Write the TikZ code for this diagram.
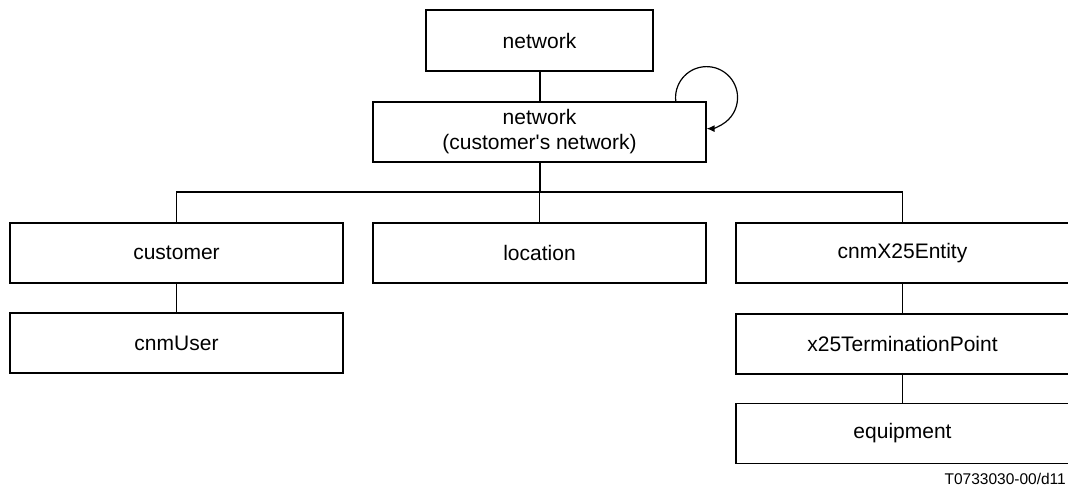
\documentclass[tikz,border=0pt]{standalone}
\usepackage{fontspec}
\setmainfont{Liberation Sans}
\usepackage{tikz}
\usetikzlibrary{arrows.meta}

\begin{document}
\begin{tikzpicture}[x=1pt, y=1pt,
    box/.style={draw, line width=1.2pt, minimum width=333pt, minimum height=60pt,
        inner sep=0pt, align=center, font=\fontsize{21}{25}\selectfont},
    link/.style={line width=1.2pt}]
            \useasboundingbox (0,0) rectangle (1068,-486);
            \node[box, minimum width=227pt, minimum height=61pt] (net) at (539.5,-40.5) {network};
            \node[box] (cnet) at (539.5,-132) {network\\(customer\textquotesingle s network)};
            \node[box] (cust) at (176.5,-253) {customer};
            \node[box] (loc) at (539.5,-253) {location};
            \node[box] (ent) at (902.5,-253) {cnmX25Entity};
            \node[box] (user) at (176.5,-343) {cnmUser};
            \node[box] (xtp) at (902.5,-344) {x25TerminationPoint};
            \node[box] (equip) at (902.5,-433.5) {equipment};
            \coordinate (bus) at (539.5,-192);
            \draw[line width=2pt] (net) -- (cnet);
            \draw[line width=2pt] (cnet) -- (bus);
            \draw[link] (cust.north) |- (bus) -| (ent.north);
            \draw[link] (loc.north) -- (bus);
            \draw[link] (cust) -- (user);
            \draw[link] (ent) -- (xtp);
            \draw[link] (xtp) -- (equip);
            \draw[link, -{Latex[length=8pt,width=7pt]}] (cnet.north east) ++(-30.8,0) arc[start angle=187, end angle=-90, radius=31];
            \node[anchor=base east, font=\fontsize{15.5}{18}\selectfont, inner sep=0pt] (code) at (1066,-484) {T0733030-00/d11};
        \end{tikzpicture}
\end{document}
